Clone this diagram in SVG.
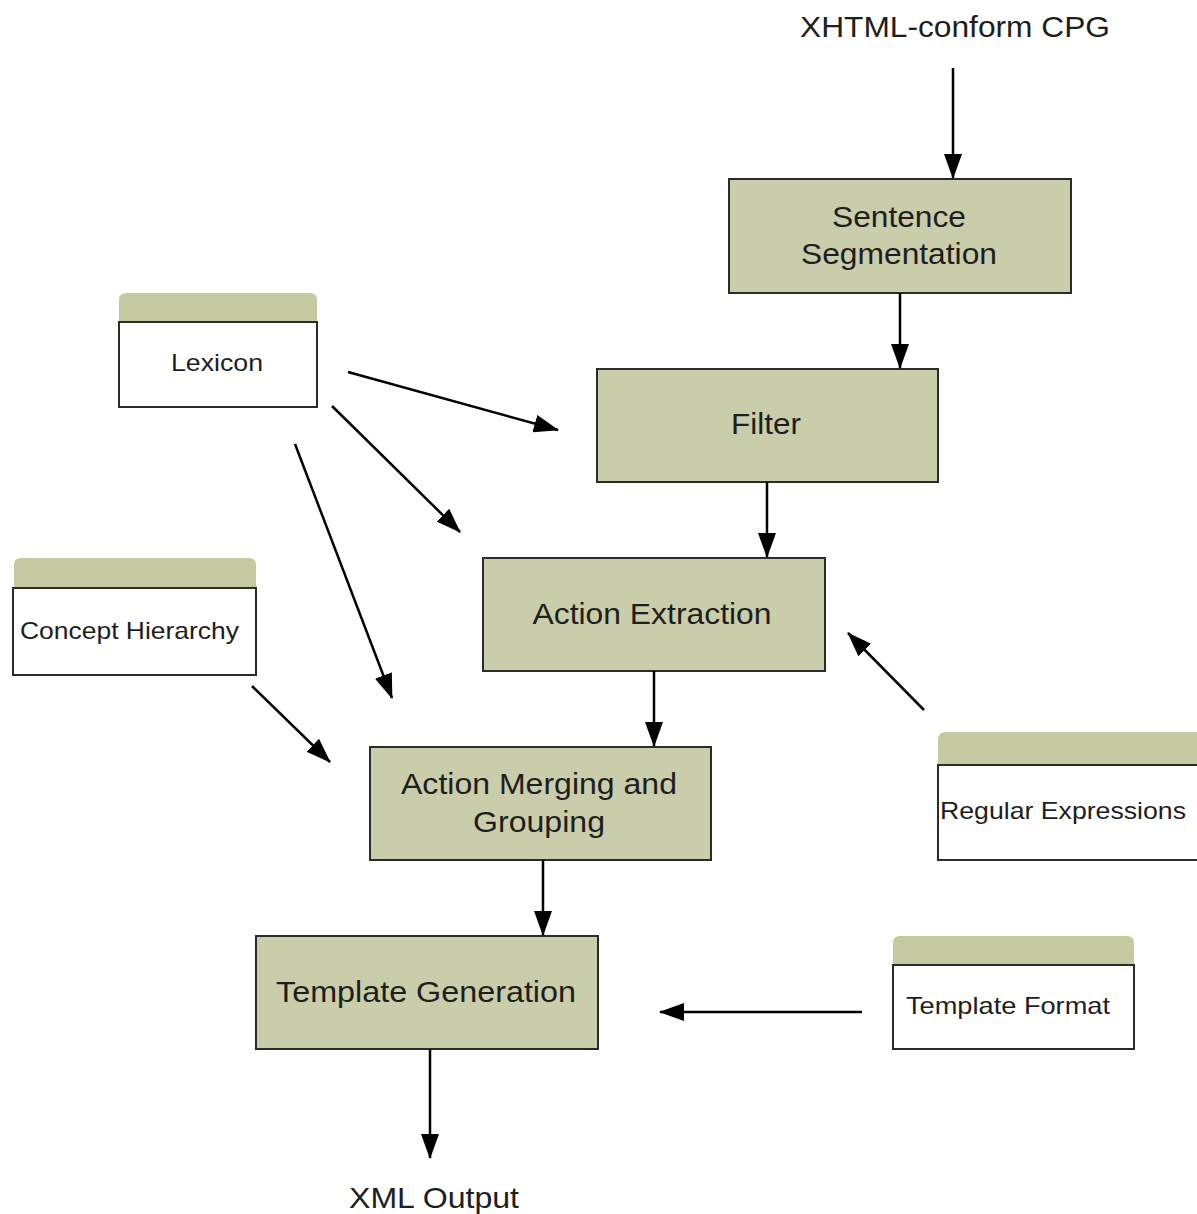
<svg xmlns="http://www.w3.org/2000/svg" width="1197" height="1214" viewBox="0 0 1197 1214">
  <style>
    .proc { fill: #c9cda9; stroke: #2b2b2b; stroke-width: 2; }
    .store { fill: #ffffff; stroke: #2b2b2b; stroke-width: 2; }
    .tab { fill: #c6caa3; }
    .big { font-family: "Liberation Sans", Arial, sans-serif; font-size: 30px; fill: #1e1e1e; text-anchor: middle; }
    .small { font-family: "Liberation Sans", Arial, sans-serif; font-size: 24px; fill: #1e1e1e; }
    .edge { stroke: #000; stroke-width: 2.5; fill: none; marker-end: url(#head); }
  </style>
  <defs>
    <marker id="head" markerUnits="userSpaceOnUse" markerWidth="26" markerHeight="18" refX="24" refY="9" orient="auto">
      <path d="M0,0 L25,9 L0,18 Z" fill="#000"/>
    </marker>
  </defs>
  <rect width="1197" height="1214" fill="#ffffff"/>

  <!-- process steps -->
  <g id="sentence-segmentation">
    <rect class="proc" x="729" y="179" width="342" height="114"/>
    <text class="big" x="899" y="227" textLength="134" lengthAdjust="spacingAndGlyphs">Sentence</text>
    <text class="big" x="899" y="264" textLength="196" lengthAdjust="spacingAndGlyphs">Segmentation</text>
  </g>
  <g id="filter">
    <rect class="proc" x="597" y="369" width="341" height="113"/>
    <text class="big" x="766" y="434" textLength="70" lengthAdjust="spacingAndGlyphs">Filter</text>
  </g>
  <g id="action-extraction">
    <rect class="proc" x="483" y="558" width="342" height="113"/>
    <text class="big" x="652" y="624" textLength="239" lengthAdjust="spacingAndGlyphs">Action Extraction</text>
  </g>
  <g id="action-merging">
    <rect class="proc" x="370" y="747" width="341" height="113"/>
    <text class="big" x="539" y="794" textLength="276" lengthAdjust="spacingAndGlyphs">Action Merging and</text>
    <text class="big" x="539" y="832" textLength="132" lengthAdjust="spacingAndGlyphs">Grouping</text>
  </g>
  <g id="template-generation">
    <rect class="proc" x="256" y="936" width="342" height="113"/>
    <text class="big" x="426" y="1002" textLength="300" lengthAdjust="spacingAndGlyphs">Template Generation</text>
  </g>

  <!-- data stores -->
  <g id="lexicon">
    <path class="tab" d="M119,322 V300 Q119,293 126,293 H310 Q317,293 317,300 V322 Z"/>
    <rect class="store" x="119" y="322" width="198" height="85"/>
    <text class="small" x="217" y="371" text-anchor="middle" textLength="92" lengthAdjust="spacingAndGlyphs">Lexicon</text>
  </g>
  <g id="concept-hierarchy">
    <path class="tab" d="M14,588 V565 Q14,558 21,558 H249 Q256,558 256,565 V588 Z"/>
    <rect class="store" x="13" y="588" width="243" height="87"/>
    <text class="small" x="20" y="639" textLength="219" lengthAdjust="spacingAndGlyphs">Concept Hierarchy</text>
  </g>
  <g id="regular-expressions">
    <path class="tab" d="M938,765 V740 Q938,732 946,732 H1197 V765 Z"/>
    <path class="store" d="M1198,765 H938 V860 H1198"/>
    <text class="small" x="940" y="819" textLength="246" lengthAdjust="spacingAndGlyphs">Regular Expressions</text>
  </g>
  <g id="template-format">
    <path class="tab" d="M893,965 V943 Q893,936 900,936 H1127 Q1134,936 1134,943 V965 Z"/>
    <rect class="store" x="893" y="965" width="241" height="84"/>
    <text class="small" x="906" y="1014" textLength="204" lengthAdjust="spacingAndGlyphs">Template Format</text>
  </g>

  <!-- external input / output labels -->
  <g id="input">
    <text class="big" x="955" y="37" textLength="310" lengthAdjust="spacingAndGlyphs">XHTML-conform CPG</text>
  </g>
  <g id="output">
    <text class="big" x="434" y="1208" textLength="170" lengthAdjust="spacingAndGlyphs">XML Output</text>
  </g>

  <!-- connectors -->
  <g id="connectors">
    <line class="edge" x1="953" y1="68" x2="953" y2="178"/>
    <line class="edge" x1="900" y1="293" x2="900" y2="368"/>
    <line class="edge" x1="767" y1="482" x2="767" y2="557"/>
    <line class="edge" x1="654" y1="671" x2="654" y2="746"/>
    <line class="edge" x1="543" y1="860" x2="543" y2="935"/>
    <line class="edge" x1="430" y1="1049" x2="430" y2="1158"/>
    <line class="edge" x1="348" y1="372" x2="558" y2="430"/>
    <line class="edge" x1="332" y1="406" x2="460" y2="532"/>
    <line class="edge" x1="295" y1="444" x2="392" y2="698"/>
    <line class="edge" x1="252" y1="686" x2="330" y2="762"/>
    <line class="edge" x1="924" y1="710" x2="848" y2="633"/>
    <line class="edge" x1="862" y1="1012" x2="660" y2="1012"/>
  </g>
</svg>
